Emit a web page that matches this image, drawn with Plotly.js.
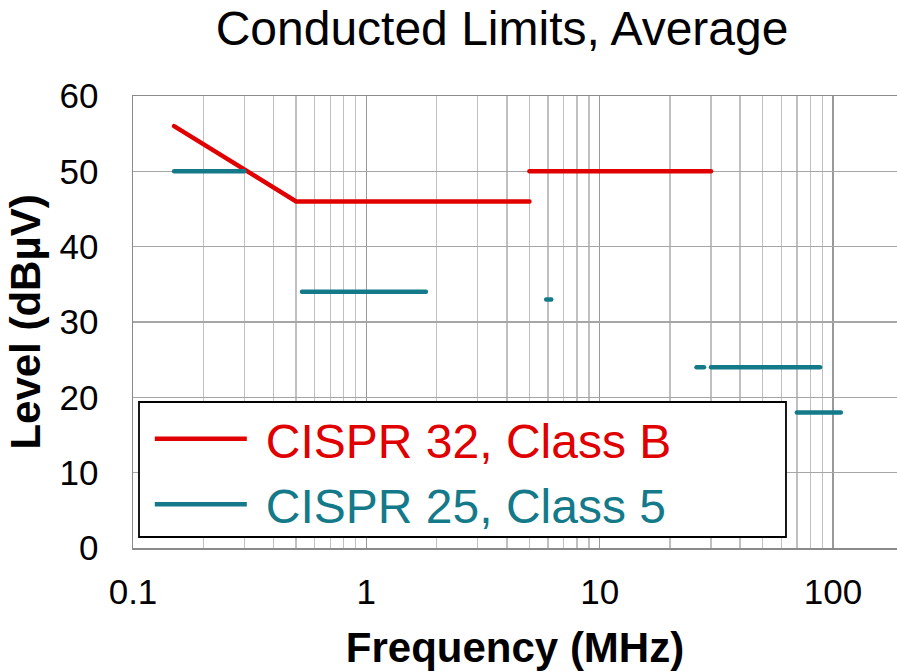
<!DOCTYPE html>
<html>
<head>
<meta charset="utf-8">
<script src="https://cdn.plot.ly/plotly-3.0.1.min.js"></script>
<style>
  html, body { margin: 0; padding: 0; background: #fff; }
  #chart { width: 897px; height: 671px; }
  .scatterlayer .js-line { stroke-linecap: round; }
</style>
</head>
<body>
<div id="chart"></div>
<script>
// CISPR 32, Class B (average) — frequency in MHz, level in dBµV
const cispr32Freq  = [0.15, 0.5, 5, null, 5, 30];
const cispr32Level = [56,   46,  46, null, 50, 50];

// CISPR 25, Class 5 (average)
const cispr25Freq  = [0.15, 0.3, null, 0.53, 1.8, null, 5.9, 6.2, null, 26, 28, null, 30, 88, null, 70, 108];
const cispr25Level = [50,   50,  null, 34,   34,  null, 33,  33,  null, 24, 24, null, 24, 24, null, 18, 18];

const seriesNames = ["CISPR 32, Class B", "CISPR 25, Class 5"];
const xTickVals = [0.1, 1, 10, 100];
const xTickText = ["0.1", "1", "10", "100"];
const yTickVals = [0, 10, 20, 30, 40, 50, 60];

const RED = "rgb(224,0,0)";
const TEAL = "rgb(20,122,138)";
const FONT = "Liberation Sans, Arial, sans-serif";

const traces = [
  { x: cispr32Freq, y: cispr32Level, name: seriesNames[0], mode: "lines",
    connectgaps: false, line: { color: RED, width: 4.5 } },
  { x: cispr25Freq, y: cispr25Level, name: seriesNames[1], mode: "lines",
    connectgaps: false, line: { color: TEAL, width: 4.5 } }
];

const layout = {
  width: 897, height: 671,
  margin: { l: 133, r: 0, t: 96, b: 123 },
  paper_bgcolor: "#fff", plot_bgcolor: "#fff",
  font: { family: FONT, color: "#000" },
  title: { text: "Conducted Limits, Average", font: { size: 48, family: FONT, color: "#000" },
           x: 0.5597, xref: "container", xanchor: "center", y: 0.958, yanchor: "middle" },
  xaxis: {
    type: "log", range: [-1, Math.log10(188)],
    tickvals: xTickVals, ticktext: xTickText,
    tickfont: { size: 35, family: FONT }, ticks: "", ticklabelstandoff: 12,
    showgrid: true, gridcolor: "#999", gridwidth: 1.4,
    minor: { dtick: "D1", showgrid: true, gridcolor: "#c0c0c0", gridwidth: 1.4, ticks: "" },
    showline: true, linecolor: "#8a8a8a", linewidth: 1.5, mirror: true,
    zeroline: false,
    title: { text: "Frequency (MHz)", font: { size: 42, family: FONT, weight: "bold" }, standoff: 28 },
    fixedrange: true, automargin: false
  },
  yaxis: {
    range: [0, 60], tickvals: yTickVals,
    tickfont: { size: 35, family: FONT }, ticks: "", ticklabelstandoff: 26,
    showgrid: true, gridcolor: "#a6a6a6", gridwidth: 1.4,
    showline: true, linecolor: "#8a8a8a", linewidth: 1.5, mirror: false,
    zeroline: false,
    title: { text: "Level (dBµV)", font: { size: 42, family: FONT, weight: "bold" }, standoff: 6 },
    fixedrange: true, automargin: false
  },
  showlegend: true,
  legend: {
    x: 0.022, y: 0.325, xanchor: "left", yanchor: "top",
    bgcolor: "rgba(0,0,0,0)", borderwidth: 0,
    font: { size: 48, family: FONT },
    itemwidth: 92, tracegroupgap: 0
  },
  shapes: [
    { type: "rect", xref: "paper", yref: "paper", layer: "above",
      x0: 0.00785, x1: 0.8547, y0: 0.0243, y1: 0.323,
      fillcolor: "#fff", line: { color: "#000", width: 1.8 } }
  ]
};

Plotly.newPlot("chart", traces, layout, { staticPlot: true, displayModeBar: false }).then(function () {
  // let legend labels extend past the auto-sized legend box (the visible box is the shape)
  document.querySelectorAll(".legend [clip-path]").forEach(function (el) {
    el.removeAttribute("clip-path");
  });
  // colour each legend label like its series and open a little gap after the line sample
  const colors = [RED, TEAL];
  document.querySelectorAll(".legend .traces").forEach(function (g, i) {
    const t = g.querySelector("text.legendtext");
    if (t) {
      t.style.fill = colors[i];
      const x0 = parseFloat(t.getAttribute("x") || "0");
      t.setAttribute("x", x0 + 14);
    }
  });
});
</script>
</body>
</html>
